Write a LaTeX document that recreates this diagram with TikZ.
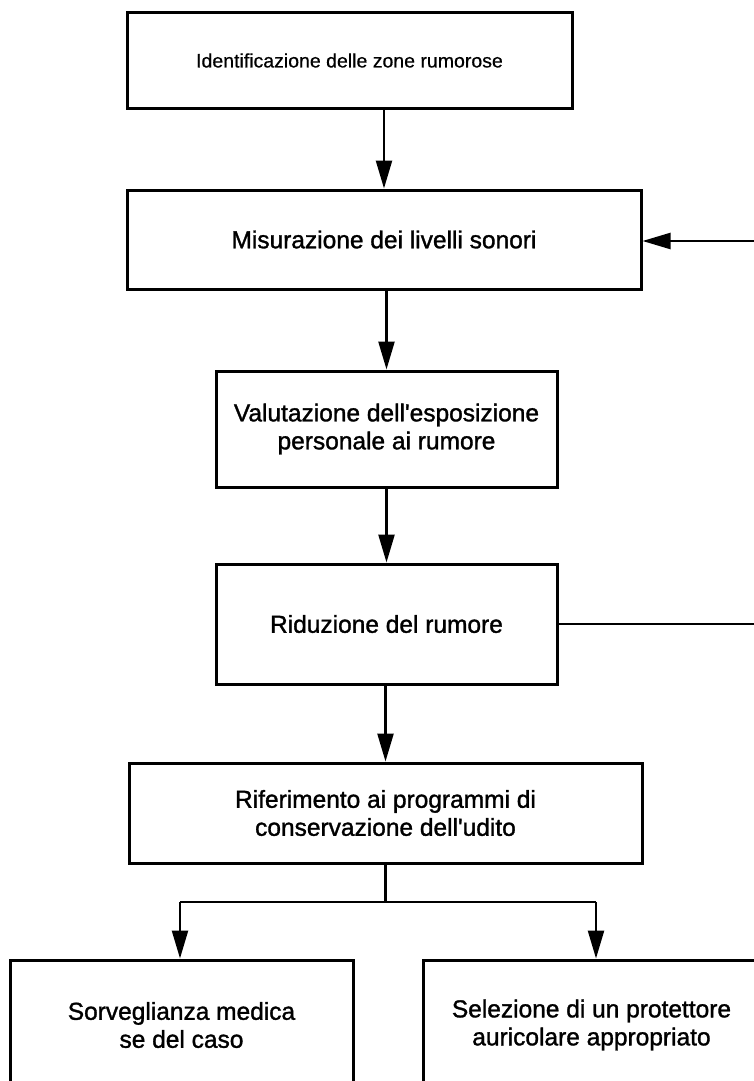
\documentclass[tikz,border=0pt]{standalone}
\usepackage{fontspec}
\setmainfont{Liberation Sans}[FakeBold=1.3]
\newfontfamily\lightfont{Liberation Sans}[FakeBold=0.5]
\usetikzlibrary{arrows.meta}
\begin{document}
\begin{tikzpicture}[x=1pt,y=1pt,
  box/.style={draw, line width=3pt, rectangle, inner sep=0pt, align=center,
              font=\fontsize{24.5}{28}\selectfont},
  arr/.style={line width=2.4pt, -{Triangle[length=28pt,width=16pt]}},
  conn/.style={line width=2.6pt}]
\useasboundingbox (0,0) rectangle (754,-1081);
\fill[white] (0,0) rectangle (754,-1081);
\node[box, minimum width=445pt, minimum height=95pt, font=\lightfont\fontsize{19.5}{24}\selectfont] (b1) at (349.5,-60.5) {Identificazione delle zone rumorose};
\node[box, minimum width=514pt, minimum height=99pt] (b2) at (384,-239.5) {Misurazione dei livelli sonori};
\node[box, minimum width=341pt, minimum height=116pt] (b3) at (386.5,-429) {Valutazione dell\textquotesingle esposizione\\personale ai rumore};
\node[box, minimum width=341pt, minimum height=120pt] (b4) at (386.5,-624) {Riduzione del rumore};
\node[box, minimum width=513pt, minimum height=100pt] (b5) at (385.5,-813) {Riferimento ai programmi di\\conservazione dell\textquotesingle udito};
\node[box, minimum width=343pt, minimum height=130pt] (b6) at (181.5,-1025) {Sorveglianza medica\\se del caso};
\node[box, minimum width=337pt, minimum height=130pt] (b7) at (591.5,-1025) {Selezione di un protettore\\auricolare appropriato};
\coordinate (fbin) at (760,-241);
\coordinate (fbout) at (760,-624);
\coordinate (j) at (385.5,-902);
\coordinate (jl) at (180,-902);
\coordinate (jr) at (596,-902);
\draw[arr] (b1.south -| b2.north) -- (b2.north);
\draw[arr] (b2.south -| b3.north) -- (b3.north);
\draw[arr] (b3.south) -- (b4.north);
\draw[arr] (b4.south -| b5.north) -- (b5.north);
\draw[conn] (b4.east) -- (fbout);
\draw[arr] (fbin) -- (fbin -| b2.east);
\draw[conn] (b5.south) -- (j);
\draw[conn] (jl) -- (jr);
\draw[arr] (jl) -- (jl |- b6.north);
\draw[arr] (jr) -- (jr |- b7.north);
\end{tikzpicture}
\end{document}
